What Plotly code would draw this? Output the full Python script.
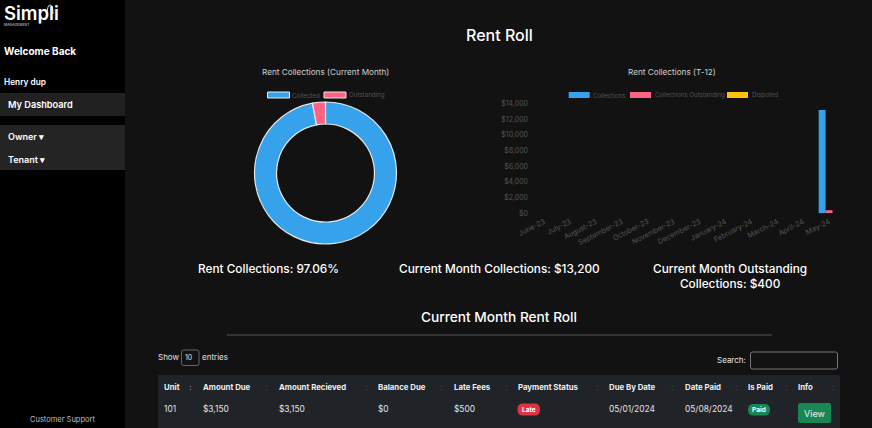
import plotly.graph_objects as go

W, H = 872, 428
FONT = "Inter, sans-serif"

# chart data
donut_labels = ["Collected", "Outstanding"]
donut_values = [13200, 400]
donut_colors = ["#36A2EB", "#FF6384"]

months = ["June-23", "July-23", "August-23", "September-23", "October-23", "November-23",
          "December-23", "January-24", "February-24", "March-24", "April-24", "May-24"]
collections = [0, 0, 0, 0, 0, 0, 0, 0, 0, 0, 0, 13200]
outstanding = [0, 0, 0, 0, 0, 0, 0, 0, 0, 0, 0, 400]
disputed = [0, 0, 0, 0, 0, 0, 0, 0, 0, 0, 0, 0]
bar_names = ["Collections", "Collections Outstanding", "Disputed"]
bar_colors = ["#36A2EB", "#FF6384", "#FFC20A"]

# table data
table_headers = ["Unit", "Amount Due", "Amount Recieved", "Balance Due", "Late Fees",
                 "Payment Status", "Due By Date", "Date Paid", "Is Paid", "Info"]
table_row = ["101", "$3,150", "$3,150", "$0", "$500", "Late", "05/01/2024", "05/08/2024", "Paid", "View"]
col_x = [164, 203, 279, 378, 454, 517.5, 609, 684.5, 748, 798]
sort_x = [190, 266, 366, 441, 506, 597, 672, 736, 786, 833]


def px(x):
    return x / W


def py(y):
    return 1 - y / H


shapes = []
annotations = []


def rect(x0, y0, x1, y1, color, line=None, lw=1):
    shapes.append(dict(type="rect", xref="paper", yref="paper", layer="below",
                       x0=px(x0), x1=px(x1), y0=py(y0), y1=py(y1), fillcolor=color,
                       line=dict(color=line or color, width=lw if line else 0)))


def rrect(x0, y0, x1, y1, r, color, line=None):
    # rounded box, paper coordinates
    pts = [f"M{px(x0 + r)},{py(y0)}", f"L{px(x1 - r)},{py(y0)}", f"Q{px(x1)},{py(y0)} {px(x1)},{py(y0 + r)}",
           f"L{px(x1)},{py(y1 - r)}", f"Q{px(x1)},{py(y1)} {px(x1 - r)},{py(y1)}",
           f"L{px(x0 + r)},{py(y1)}", f"Q{px(x0)},{py(y1)} {px(x0)},{py(y1 - r)}",
           f"L{px(x0)},{py(y0 + r)}", f"Q{px(x0)},{py(y0)} {px(x0 + r)},{py(y0)}Z"]
    shapes.append(dict(type="path", xref="paper", yref="paper", layer="below", path=" ".join(pts),
                       fillcolor=color, line=dict(color=line or color, width=1 if line else 0)))


def label(x, y, text, size=9, color="#ffffff", weight=400, anchor="left"):
    # annotations sit about 1px inside their anchor
    if anchor == "left":
        x -= 1
    elif anchor == "right":
        x += 1
    annotations.append(dict(x=px(x), y=py(y), xref="paper", yref="paper", text=text, showarrow=False,
                            xanchor=anchor, yanchor="middle", align="center", borderpad=0,
                            font=dict(family=FONT, size=size, color=color, weight=weight)))


# sidebar
rect(0, 0, 125, H, "#000000")
rect(0, 93, 125, 116, "#212121")
rect(0, 125, 125, 170, "#242424")
label(4, 13, "Simpli", 18.5, weight=600)
label(4, 25, "MANAGEMENT", 3.5, "#dddddd")
shapes.append(dict(type="path", xref="paper", yref="paper", layer="below",
                   path=f"M{px(47)},{py(16)} Q{px(47)},{py(5)} {px(50)},{py(5)} Q{px(53)},{py(5)} {px(53)},{py(14)}",
                   line=dict(color="#dddddd", width=1)))
label(3.5, 51, "Welcome Back", 10, weight=700)
label(3.5, 82, "Henry dup", 8.3, weight=600)
label(8, 104.5, "My Dashboard", 9.2, weight=600)
label(7.5, 136, "Owner ▾", 9, weight=600)
label(7.5, 159, "Tenant ▾", 9, weight=600)
label(62, 419.5, "Customer Support", 7.5, "#bdbdbd", anchor="center")

# headings
label(499, 35, "Rent Roll", 16, weight=500, anchor="center")
label(325.5, 72, "Rent Collections (Current Month)", 8.2, "#d0d0d0", anchor="center")
label(672, 72, "Rent Collections (T-12)", 8.2, "#d0d0d0", anchor="center")
label(268, 269, "Rent Collections: 97.06%", 11.8, weight=500, anchor="center")
label(499, 269, "Current Month Collections: $13,200", 11.8, weight=500, anchor="center")
label(730, 276.5, "Current Month Outstanding<br>Collections: $400", 11.8, weight=500, anchor="center")
label(499, 317, "Current Month Rent Roll", 13.7, weight=500, anchor="center")
rect(227, 334.5, 772, 335.5, "#555555")

# hand drawn legends, the swatches are wider than plotly's
for x0, name, color in zip([267.5, 324], donut_labels, donut_colors):
    rect(x0, 92, x0 + 22, 98, color, "#e8e8e8", 1)
    label(x0 + 24.5, 95, name, 6.2, "#555555")
for x0, name, color in zip([568.7, 630, 727], bar_names, bar_colors):
    rect(x0, 92, x0 + 21, 98, color)
    label(x0 + 24.5, 95, name, 6.2, "#555555")

# table controls
label(158, 357, "Show", 8, "#e0e0e0")
rrect(181.5, 350, 199, 365.5, 2, "#121212", "#666666")
label(184.5, 357.5, "10", 7, "#e0e0e0")
label(202, 357, "entries", 8, "#e0e0e0")
label(746, 360, "Search:", 8, "#e8e8e8", anchor="right")
rrect(750.5, 352, 837.5, 369, 2, "#121212", "#777777")

# table
rect(158, 375, 840, H, "#202327")
for x, name in zip(col_x, table_headers):
    label(x, 386.5, name, 7.8, "#eeeeee", 700)
for i, x in enumerate(sort_x):
    label(x, 386.5, ":", 8, "#8a8a8a" if i == 0 else "#44474b", 700, "center")
rrect(517.5, 403.5, 540, 415.5, 5.5, "#DC3545")
rrect(748, 404, 770, 415.5, 5.5, "#198754")
rrect(798, 403, 831, 423, 2.5, "#198754")
for x, value in zip(col_x, table_row):
    if value == "Late":
        label(528.5, 409.5, value, 6.5, weight=700, anchor="center")
    elif value == "Paid":
        label(759, 409.5, value, 6.5, weight=700, anchor="center")
    elif value == "View":
        label(814.5, 413, value, 9, "#eeeeee", anchor="center")
    else:
        label(x, 409, value, 8.4, "#e4e4e4")

fig = go.Figure()

fig.add_trace(go.Pie(
    labels=donut_labels, values=donut_values, hole=0.69, sort=False, direction="clockwise",
    marker=dict(colors=donut_colors, line=dict(color="#e8e8e8", width=1.2)),
    textinfo="none", showlegend=False,
    domain=dict(x=[px(254.5), px(396.5)], y=[py(244), py(102)]),
))

for name, values, color in zip(bar_names, [collections, outstanding, disputed], bar_colors):
    fig.add_trace(go.Bar(x=months, y=values, name=name, marker=dict(color=color, line_width=0),
                         showlegend=False, xaxis="x", yaxis="y"))

fig.update_layout(
    width=W, height=H,
    margin=dict(l=0, r=0, t=0, b=0),
    paper_bgcolor="#121212", plot_bgcolor="rgba(0,0,0,0)",
    font=dict(family=FONT, color="#555555"),
    barmode="group", bargap=0.2, bargroupgap=0,
    shapes=shapes, annotations=annotations,
    xaxis=dict(domain=[px(531), px(842)], showgrid=False, zeroline=False, showline=False, ticks="",
               automargin=False, tickangle=-27, ticklabelstandoff=2, tickfont=dict(size=7.2, color="#555555")),
    yaxis=dict(domain=[py(213.3), py(103.7)], range=[0, 14000], dtick=2000, tickprefix="$", tickformat=",",
               automargin=False, showgrid=False, zeroline=False, showline=False, ticks="", ticklen=0,
               ticklabelstandoff=2, tickfont=dict(size=7, color="#555555")),
)

fig.write_html("out.html", config=dict(displayModeBar=False),
               post_script="document.body.style.margin='0';document.body.style.overflow='hidden';")
